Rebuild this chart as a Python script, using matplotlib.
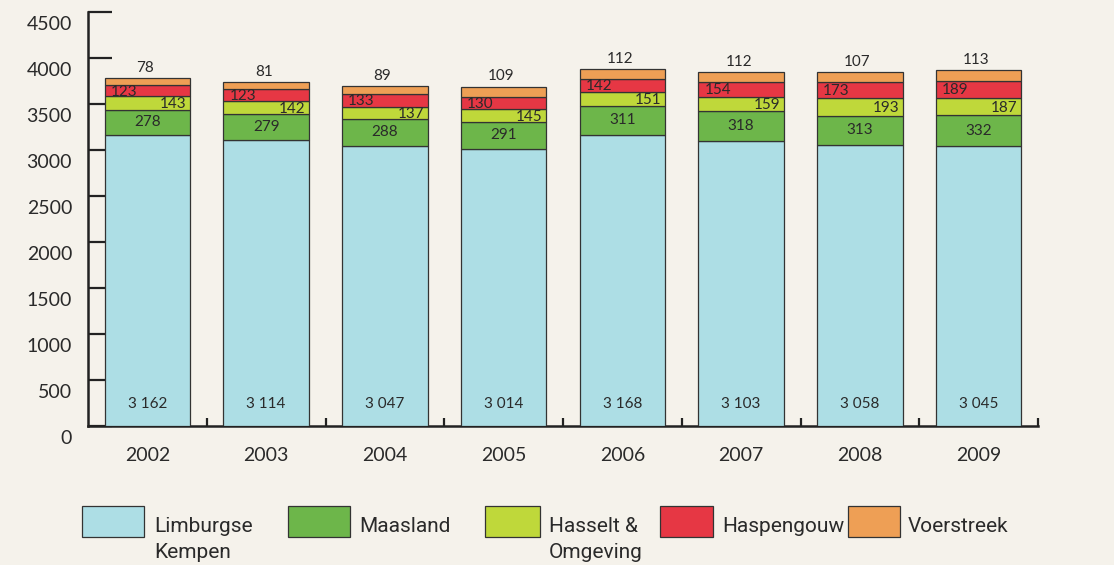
import matplotlib
matplotlib.use("Agg")
import matplotlib.pyplot as plt
from matplotlib.patches import Rectangle
from matplotlib.transforms import ScaledTranslation
import numpy as np

years = ["2002", "2003", "2004", "2005", "2006", "2007", "2008", "2009"]
limburgse_kempen = [3162, 3114, 3047, 3014, 3168, 3103, 3058, 3045]
maasland = [278, 279, 288, 291, 311, 318, 313, 332]
hasselt_omgeving = [143, 142, 137, 145, 151, 159, 193, 187]
haspengouw = [123, 123, 133, 130, 142, 154, 173, 189]
voerstreek = [78, 81, 89, 109, 112, 112, 107, 113]
series_names = ["Limburgse\nKempen", "Maasland", "Hasselt &\nOmgeving", "Haspengouw", "Voerstreek"]
colors = ["#addee5", "#6db64a", "#bfd83a", "#e63744", "#ee9f55"]
y_ticks = [0, 500, 1000, 1500, 2000, 2500, 3000, 3500, 4000, 4500]

BG = "#f5f2eb"
TXT = "#2a2a2a"
plt.rcParams['font.family'] = ['Lato', 'DejaVu Sans']

fig = plt.figure(figsize=(11.14, 5.65), dpi=100, facecolor=BG)
ax = fig.add_axes([88/1114, 1 - 426/565, (1038-88)/1114, (426-12)/565])
ax.set_facecolor(BG)

x = np.arange(len(years))
series = [limburgse_kempen, maasland, hasselt_omgeving, haspengouw, voerstreek]
bottom = np.zeros(len(years))
bw = 0.72
for vals, col in zip(series, colors):
    ax.bar(x, vals, bw, bottom=bottom, color=col, edgecolor="#333333", linewidth=0.9, zorder=3)
    bottom = bottom + np.array(vals)

# labels
fs = 11
for i in range(len(years)):
    v0 = limburgse_kempen[i]
    ax.text(x[i], 240, f"{v0:,}".replace(",", " "), ha="center", va="center", fontsize=fs, color=TXT, zorder=5)
    v1 = maasland[i]
    ax.text(x[i], v0 + v1 / 2, str(v1), ha="center", va="center", fontsize=fs, color=TXT, zorder=5)
    v2 = hasselt_omgeving[i]
    ax.text(x[i] + bw / 2 - 0.03, v0 + v1 + v2 / 2 - 15, str(v2), ha="right", va="center", fontsize=fs, color=TXT, zorder=5)
    v3 = haspengouw[i]
    ax.text(x[i] - bw / 2 + 0.05, v0 + v1 + v2 + v3 / 2 - 10, str(v3), ha="left", va="center", fontsize=fs, color=TXT, zorder=5)
    v4 = voerstreek[i]
    tot = v0 + v1 + v2 + v3 + v4
    ax.text(x[i] - 0.02, tot + 110, str(v4), ha="center", va="center", fontsize=fs, color=TXT, zorder=5)

ax.set_xlim(-0.5, len(years) - 0.5)
ax.set_ylim(0, 4500)
for s in ["top", "right"]:
    ax.spines[s].set_visible(False)
for s in ["left", "bottom"]:
    ax.spines[s].set_linewidth(1.8)
    ax.spines[s].set_color("#222222")

ax.set_yticks(y_ticks)
ax.set_yticklabels([str(t) for t in y_ticks])
ax.tick_params(axis="y", direction="in", length=17, width=1.6, pad=11.5, labelsize=14, labelcolor=TXT, color="#222222")
ax.set_xticks(x)
ax.set_xticklabels(years)
ax.set_xticks(np.arange(len(years)) + 0.5, minor=True)
ax.tick_params(axis="x", which="major", length=0, pad=15, labelsize=14, labelcolor=TXT)
ax.tick_params(axis="x", which="minor", direction="in", length=6, width=1.6, color="#222222")

off = ScaledTranslation(0, -11 / 100, fig.dpi_scale_trans)
for lab in ax.get_yticklabels():
    lab.set_transform(lab.get_transform() + off)

# legend
W, H = 1114, 565
patch_x = [(82, 144), (288, 350), (485, 540), (660, 713), (848, 900)]
text_x = [154, 359, 549, 722, 908]
for (x0, x1), tx, col, name in zip(patch_x, text_x, colors, series_names):
    fig.patches.append(Rectangle((x0 / W, 1 - 537 / H), (x1 - x0) / W, 31 / H,
                                 transform=fig.transFigure, facecolor=col,
                                 edgecolor="#333333", linewidth=0.9))
    for j, line in enumerate(name.split("\n")):
        fig.text(tx / W, 1 - (532 + 26 * j) / H, line, ha="left", va="baseline",
                 fontsize=15, color=TXT, family=["Roboto", "DejaVu Sans"])

fig.savefig("out.png", dpi=100, facecolor=BG)
